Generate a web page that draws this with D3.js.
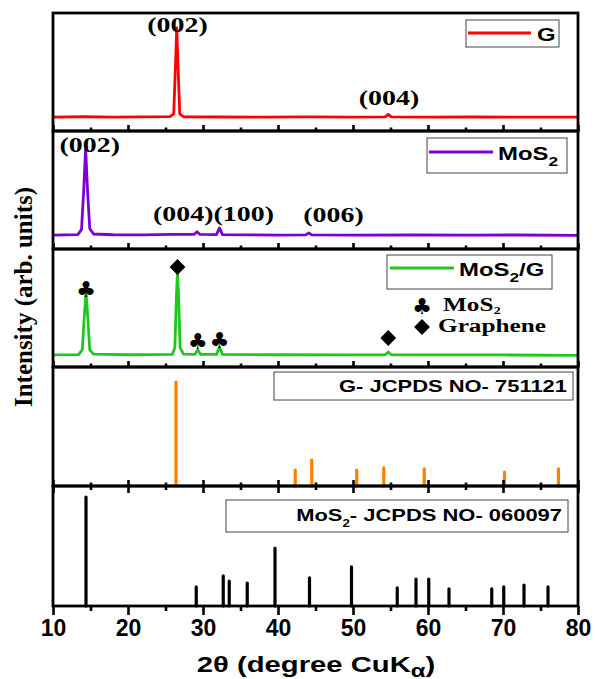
<!DOCTYPE html>
<html>
<head>
<meta charset="utf-8">
<script src="https://cdn.jsdelivr.net/npm/d3@7"></script>
<style>
  body { margin: 0; background: #fff; }
  svg { display: block; }
</style>
</head>
<body>
<div id="chart"></div>
<script>
// XRD patterns, 2theta (deg) vs intensity (arb. units, 0-100 per panel)
const gPattern = [
  [10, 9], [14, 9.3], [18, 9], [22, 9.2], [25.6, 9.4], [26.1, 12], [26.35, 60], [26.5, 90],
  [26.65, 60], [26.9, 12], [27.4, 9.3], [32, 9.1], [38, 9], [44, 9.2], [50, 9],
  [54.3, 9.2], [54.7, 11.5], [55.1, 9.2], [60, 9], [66, 9.1], [72, 9], [80, 9]
];
const mos2Pattern = [
  [10, 9], [13.3, 9.4], [13.8, 14], [14.1, 50], [14.35, 88], [14.6, 50], [14.9, 15], [15.4, 10],
  [18, 9.3], [22, 9.2], [26, 9.6], [28.8, 9.6], [29.2, 12], [29.6, 9.6], [31.8, 9.5], [32.2, 15.5],
  [32.6, 9.5], [36, 9.2], [40, 9], [43.7, 9.2], [44.1, 11], [44.5, 9.2], [50, 9], [58, 9.1],
  [66, 9], [72, 9.1], [80, 8.8]
];
const compositePattern = [
  [10, 7.3], [13.4, 7.6], [13.9, 12], [14.15, 40], [14.4, 64.5], [14.65, 40], [14.9, 12], [15.4, 8],
  [20, 7.5], [25.9, 7.8], [26.25, 14], [26.45, 60], [26.6, 83.6], [26.75, 60], [26.95, 14], [27.4, 8],
  [28.9, 7.8], [29.3, 11.8], [29.7, 7.8], [31.8, 7.8], [32.2, 14.5], [32.6, 7.8], [40, 7.5],
  [50, 7.4], [54.3, 7.5], [54.7, 10], [55.1, 7.5], [62, 7.4], [70, 7.3], [80, 7]
];

// reference stick patterns
const gRefPos = [26.4, 42.3, 44.5, 50.5, 54.1, 59.5, 70.2, 77.4];
const gRefInt = [94.5, 14.5, 23.6, 14.5, 16.4, 15.5, 12.7, 15.5];
const mos2RefPos = [14.4, 29.1, 32.7, 33.5, 35.9, 39.6, 44.2, 49.8, 55.9, 58.4, 60.1, 62.8, 68.5, 70.1, 72.8, 76.0];
const mos2RefInt = [99, 17.3, 27.3, 22.7, 20.9, 52.7, 25.5, 35.5, 16.4, 24.5, 24.5, 15.5, 15.5, 17.3, 19.1, 17.3];

// phase markers on the composite pattern
const clubMarks = [[14.4, 66.4], [29.3, 19.1], [32.2, 20]];
const diamondMarks = [[26.6, 87.3], [54.7, 22.7]];

// (hkl) labels: [panel, 2theta, intensity, text]
const hklLabels = [
  [0, 26.6, 86, "(002)"], [0, 54.8, 20, "(004)"],
  [1, 14.9, 85, "(002)"], [1, 31.4, 21.5, "(004)(100)"], [1, 47.4, 20.5, "(006)"]
];

const xTicks = d3.range(10, 81, 10);
const xMinor = d3.range(15, 80, 10);

const width = 595, height = 679;
const left = 53, right = 578;
const panelTops = [13, 131, 249, 367, 486];
const plotBottom = 606;
const panelBottom = i => (i < 4 ? panelTops[i + 1] : plotBottom);
const stretch = 1.33; // the figure's text is wide

const svg = d3.select("#chart").append("svg")
  .attr("width", width)
  .attr("height", height);

const x = d3.scaleLinear([10, 80], [left, right]);

function lineY(i) {
  return d3.scaleLinear([0, 100], [panelBottom(i) - 4, panelBottom(i) - 114]);
}
function stickY(i) {
  return d3.scaleLinear([0, 100], [panelBottom(i), panelBottom(i) - 110]);
}

// stretched text helper
function label(parent, px, py, anchor, font, size, parts, sx = stretch) {
  const g = parent.append("g").attr("transform", `translate(${px},${py}) scale(${sx},1)`);
  const t = g.append("text")
    .attr("text-anchor", anchor)
    .attr("font-family", font)
    .attr("font-weight", "bold")
    .attr("font-size", size)
    .attr("fill", "#000");
  parts.forEach(p => {
    if (typeof p === "string") t.append("tspan").text(p);
    else t.append("tspan").attr("font-size", p.size).attr("dy", p.dy).text(p.text);
  });
  return t;
}

const serif = "'Liberation Serif', 'Times New Roman', serif";
const sans = "'Liberation Sans', Arial, sans-serif";

// line patterns
const patterns = [
  {data: gPattern, color: "#ff0000"},
  {data: mos2Pattern, color: "#7a00d6"},
  {data: compositePattern, color: "#1ec81e"}
];
patterns.forEach((p, i) => {
  const y = lineY(i);
  svg.append("path")
    .datum(p.data)
    .attr("fill", "none")
    .attr("stroke", p.color)
    .attr("stroke-width", 2.8)
    .attr("stroke-linejoin", "round")
    .attr("d", d3.line().x(d => x(d[0])).y(d => y(d[1])));
});

// stick patterns
[{pos: gRefPos, val: gRefInt, color: "#ff8000", panel: 3},
 {pos: mos2RefPos, val: mos2RefInt, color: "#000", panel: 4}].forEach(s => {
  const y = stickY(s.panel);
  svg.append("g")
    .attr("stroke", s.color)
    .attr("stroke-width", 3.2)
    .attr("stroke-linecap", "round")
    .selectAll("line")
    .data(d3.range(s.pos.length))
    .join("line")
    .attr("x1", i => x(s.pos[i]))
    .attr("x2", i => x(s.pos[i]))
    .attr("y1", y(0))
    .attr("y2", i => y(s.val[i]));
});

// hkl labels
hklLabels.forEach(d => {
  label(svg, x(d[1]), lineY(d[0])(d[2]), "middle", serif, 21, [d[3]]);
});

// phase markers
const y3 = lineY(2);
const diamond = d3.symbol(d3.symbolSquare, 125);
function club(px, py) {
  svg.append("text")
    .attr("x", px).attr("y", py + 7)
    .attr("text-anchor", "middle")
    .attr("font-family", "'DejaVu Sans', sans-serif")
    .attr("font-size", 22)
    .text("\u2663");
}
function diam(px, py) {
  svg.append("path")
    .attr("d", diamond())
    .attr("transform", `translate(${px},${py}) rotate(45)`)
    .attr("fill", "#000");
}
clubMarks.forEach(d => club(x(d[0]), y3(d[1])));
diamondMarks.forEach(d => diam(x(d[0]), y3(d[1])));

// marker key
club(422, 307);
label(svg, 443, 311, "start", serif, 19, ["MoS", {text: "2", size: 11, dy: 3}]);
diam(422, 327);
label(svg, 438, 332, "start", serif, 19, ["Graphene"]);

// legend boxes
function legendBox(bx, by, bw, bh) {
  svg.append("rect")
    .attr("x", bx).attr("y", by).attr("width", bw).attr("height", bh)
    .attr("fill", "#fff").attr("stroke", "#444").attr("stroke-width", 1);
}
legendBox(466, 20, 93, 27);
svg.append("line").attr("x1", 468).attr("x2", 531).attr("y1", 33).attr("y2", 33)
  .attr("stroke", "#ff0000").attr("stroke-width", 3);
label(svg, 537, 41, "start", sans, 18, ["G"]);

legendBox(427, 138, 140, 35);
svg.append("line").attr("x1", 429).attr("x2", 493).attr("y1", 152).attr("y2", 152)
  .attr("stroke", "#7a00d6").attr("stroke-width", 3);
label(svg, 498, 160, "start", sans, 18, ["MoS", {text: "2", size: 13, dy: 6}]);

legendBox(387, 255, 165, 34);
svg.append("line").attr("x1", 390).attr("x2", 454).attr("y1", 268).attr("y2", 268)
  .attr("stroke", "#1ec81e").attr("stroke-width", 3);
label(svg, 459, 276, "start", sans, 18, ["MoS", {text: "2", size: 13, dy: 6}, {text: "/G", size: 18, dy: -6}]);

legendBox(274, 372, 299, 28);
label(svg, 567, 392, "end", sans, 16.5, ["G- JCPDS NO- 751121"]);

legendBox(226, 500, 342, 32);
label(svg, 562, 521, "end", sans, 16.5, ["MoS", {text: "2", size: 10, dy: 6}, {text: "- JCPDS NO- 060097", size: 16.5, dy: -6}]);

// panel frames and ticks
panelTops.forEach((top, i) => {
  const bottom = panelBottom(i);
  svg.append("rect")
    .attr("x", left).attr("y", top)
    .attr("width", right - left).attr("height", bottom - top)
    .attr("fill", "none").attr("stroke", "#000").attr("stroke-width", 2.8);

  if (i < 4) {
    [[xTicks, 6], [xMinor, 3.5]].forEach(([vals, len]) => {
      svg.append("g")
        .attr("transform", `translate(0,${bottom})`)
        .call(d3.axisTop(x).tickValues(vals).tickSize(len).tickFormat(""))
        .call(g => g.select(".domain").remove())
        .call(g => g.selectAll(".tick line").attr("stroke-width", 2.6));
    });
  }
});

// last panel: inward ticks on top, outward ticks + labels at bottom
[[xTicks, 7], [xMinor, 4]].forEach(([vals, len]) => {
  svg.append("g")
    .attr("transform", `translate(0,${panelTops[4]})`)
    .call(d3.axisBottom(x).tickValues(vals).tickSize(len).tickFormat(""))
    .call(g => g.select(".domain").remove())
    .call(g => g.selectAll(".tick line").attr("stroke-width", 2.6));
});
svg.append("g")
  .attr("transform", `translate(0,${plotBottom})`)
  .call(d3.axisBottom(x).tickValues(xMinor).tickSize(5).tickFormat(""))
  .call(g => g.select(".domain").remove())
  .call(g => g.selectAll(".tick line").attr("stroke-width", 2.6));
svg.append("g")
  .attr("transform", `translate(0,${plotBottom})`)
  .call(d3.axisBottom(x).tickValues(xTicks).tickSize(9).tickPadding(5).tickFormat(d3.format("d")))
  .call(g => g.select(".domain").remove())
  .call(g => g.selectAll(".tick line").attr("stroke-width", 2.6))
  .call(g => g.selectAll(".tick text")
    .attr("font-family", sans)
    .attr("font-weight", "bold")
    .attr("font-size", 23)
    .attr("fill", "#000"));

// axis titles
label(svg, 316, 672, "middle", sans, 22, ["2\u03b8 (degree CuK", {text: "\u03b1", size: 18, dy: 5}, {text: ")", size: 22, dy: -5}]);

svg.append("text")
  .attr("transform", "translate(32,297) rotate(-90)")
  .attr("text-anchor", "middle")
  .attr("font-family", serif)
  .attr("font-weight", "bold")
  .attr("font-size", 25)
  .attr("fill", "#000")
  .text("Intensity (arb. units)");
</script>
</body>
</html>
